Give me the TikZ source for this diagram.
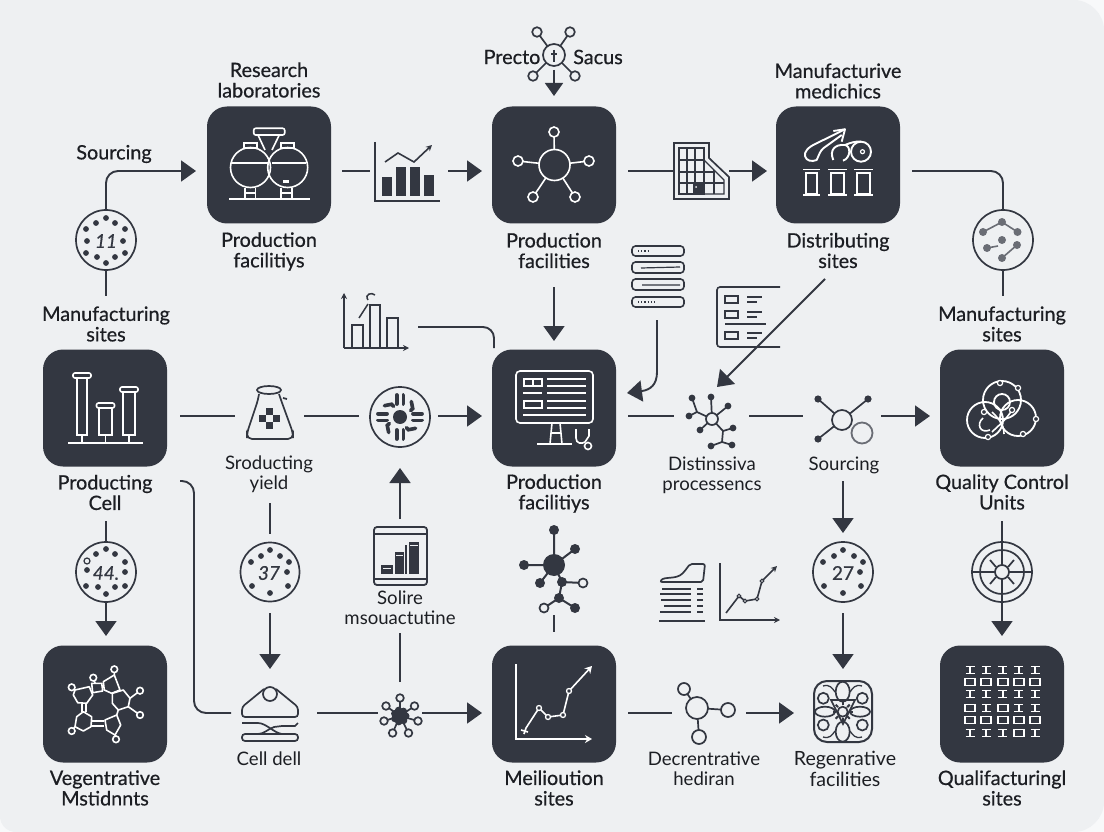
\documentclass[tikz,border=0pt]{standalone}
\usepackage{fontspec}
\usetikzlibrary{arrows.meta,calc}
\setmainfont{Lato}
\newfontfamily\lblfont[FakeBold=0.6]{Lato}
\newfontfamily\thinfont{Lato}
\definecolor{ink}{HTML}{333741}
\definecolor{txt}{HTML}{1C1E23}
\definecolor{paper}{HTML}{EEF0F2}
\definecolor{outer}{HTML}{F8F9FA}
\definecolor{gry}{HTML}{6A6D75}
\tikzset{
  conn/.style={draw=ink,line width=1.9pt},
  flow/.style={conn,-{Triangle[length=15pt,width=21pt]}},
  sflow/.style={draw=ink,line width=1.6pt,-{Stealth[length=6pt,width=6pt]}},
  wflow/.style={draw=white,line width=1.6pt,-{Stealth[length=7pt,width=8pt]}},
  boxn/.style={rectangle,rounded corners=20pt,minimum width=124pt,minimum height=117pt,fill=ink,inner sep=0pt},
  circ/.style={circle,draw=ink,line width=1.7pt,minimum size=#1,inner sep=0pt},
  lbl/.style={font=\fontsize{19.8}{20.5}\selectfont\lblfont,align=center,text=txt,inner sep=0pt},
  thin lbl/.style={font=\fontsize{18.6}{19.6}\selectfont\thinfont,align=center,text=txt,inner sep=0pt},
  numt/.style={font=\fontsize{19}{19}\selectfont\lblfont\itshape,text=ink,inner sep=0pt},
  wl/.style={draw=white,line width=1.6pt},
  il/.style={draw=ink,line width=1.7pt},
}
\newcommand{\dotsat}[1]{\foreach \p in {#1}{\fill[ink] \p circle[radius=2.9pt];}}
\begin{document}
\begin{tikzpicture}[x=1pt,y=-1pt]
\useasboundingbox (0,0) rectangle (1104,832);
\fill[outer] (0,0) rectangle (1104,832);
\fill[paper] (0,0) -- (1074,0) .. controls (1090,0) and (1104,14) .. (1104,30) -- (1104,802) .. controls (1104,818) and (1090,832) .. (1074,832) -- (16,832) .. controls (7,832) and (0,825) .. (0,816) -- cycle;

% ---------- boxes ----------
\node[boxn] (boxA) at (269,165) {};
\node[boxn] (boxB) at (554,165) {};
\node[boxn] (boxC) at (838,165) {};
\node[boxn] (boxD) at (105,408) {};
\node[boxn] (boxE) at (554,408) {};
\node[boxn] (boxF) at (1002,408) {};
\node[boxn] (boxG) at (105,704) {};
\node[boxn] (boxH) at (554,704) {};
\node[boxn] (boxI) at (1002,704) {};

% ---------- circles with numbers ----------
\node[circ=60pt] (c11) at (106,240) {};
\node[numt] (n11) at (106,241) {11};
\dotsat{(106,218),(96,223),(115,223),(86,229),(125,229),(123,241),(87,241),(86,253),(125,253),(97,257),(115,257),(106,263)}
\node[circ=60pt] (cTR) at (1003,240) {};
\node[circ=60pt] (c44) at (106,572) {};
\node[numt] (n44) at (106,573) {44.};
\dotsat{(106,549),(96,554),(115,554),(125,562),(87,570),(125,572),(86,586),(125,586),(98,587),(115,587),(106,594)}
\draw[ink,line width=1.2pt] (87,561) circle[radius=3pt];
\node[circ=59pt] (c37) at (270,572) {};
\node[numt] (n37) at (269,573) {37};
\dotsat{(270,550),(261,556),(280,556),(251,562),(289,562),(287,572),(252,586),(288,586),(270,593)}
\node[circ=60pt] (c27) at (843,572) {};
\node[numt,font=\fontsize{19}{19}\selectfont\lblfont] (n27) at (843,573) {27};
\dotsat{(843,550),(834,556),(854,556),(823,562),(863,562),(860,572),(824,586),(861,586),(843,593)}

% ---------- connector end points ----------
\coordinate (srcEnd) at (196,171);
\coordinate (manuStub) at (106,296);
\coordinate (a1) at (342,171); \coordinate (a2) at (370,171);
\coordinate (a3) at (448,171); \coordinate (a4) at (482,171);
\coordinate (b1) at (628,171); \coordinate (b2) at (673,171);
\coordinate (b3) at (729,171); \coordinate (b4) at (767,171);
\coordinate (c1) at (912,171);
\coordinate (trStub) at (1003,296);
\coordinate (hub1) at (554,70); \coordinate (hub2) at (554,96);
\coordinate (d1) at (554,287); \coordinate (d2) at (554,341);
\coordinate (e1) at (657,320); \coordinate (e2) at (627,393);
\coordinate (f1) at (825,279); \coordinate (f2) at (717,387);
\coordinate (g1) at (418,327); \coordinate (g2) at (494,348);
\coordinate (h1) at (180,416); \coordinate (h2) at (235,416);
\coordinate (h3) at (304,416); \coordinate (h4) at (359,416);
\coordinate (h5) at (438,416); \coordinate (h6) at (482,416);
\coordinate (i1) at (628,416); \coordinate (i2) at (674,416);
\coordinate (i3) at (749,416); \coordinate (i4) at (803,416);
\coordinate (i5) at (881,416); \coordinate (i6) at (930,416);
\coordinate (j1) at (106,521); \coordinate (j2) at (106,636);
\coordinate (k1) at (270,503); \coordinate (k2) at (270,534);
\coordinate (k3) at (270,613); \coordinate (k4) at (270,669);
\coordinate (l1) at (180,481); \coordinate (l2) at (231,713);
\coordinate (m1) at (317,713); \coordinate (m2) at (378,713);
\coordinate (m3) at (422,713); \coordinate (m4) at (482,713);
\coordinate (n1) at (400,682); \coordinate (n2) at (400,633);
\coordinate (n3) at (400,519); \coordinate (n4) at (400,468);
\coordinate (o1) at (554,615); \coordinate (o2) at (554,632);
\coordinate (q1) at (628,713); \coordinate (q2) at (672,713);
\coordinate (q3) at (746,713); \coordinate (q4) at (794,713);
\coordinate (r1) at (843,481); \coordinate (r2) at (843,533);
\coordinate (r3) at (843,613); \coordinate (r4) at (843,669);
\coordinate (s1) at (1002,521); \coordinate (s2) at (1002,636);

% ---------- connectors ----------
\draw[flow,rounded corners=12pt] (c11.north) |- (srcEnd);
\draw[conn] (c11.south) -- (manuStub);
\draw[conn] (a1) -- (a2);
\draw[flow] (a3) -- (a4);
\draw[conn] (b1) -- (b2);
\draw[flow] (b3) -- (b4);
\draw[conn,rounded corners=12pt] (c1) -| (cTR.north);
\draw[conn] (cTR.south) -- (trStub);
\draw[flow] (d1) -- (d2);
\draw[flow] (e1) -- (657,372) .. controls (657,385) and (650,390) .. (e2);
\draw[flow] (f1) -- (f2);
\draw[conn,rounded corners=11pt] (g1) -| (g2);
\draw[conn] (h1) -- (h2);
\draw[conn] (h3) -- (h4);
\draw[flow] (h5) -- (h6);
\draw[conn] (i1) -- (i2);
\draw[conn] (i3) -- (i4);
\draw[flow] (i5) -- (i6);
\draw[conn] (j1) -- (c44.north);
\draw[flow] (c44.south) -- (j2);
\draw[conn] (k1) -- (k2);
\draw[flow] (k3) -- (k4);
\draw[conn,rounded corners=12pt] (l1) -- (194,481) -- (194,713) -- (l2);
\draw[conn] (m1) -- (m2);
\draw[flow] (m3) -- (m4);
\draw[conn] (n1) -- (n2);
\draw[flow] (n3) -- (n4);
\draw[conn] (o1) -- (o2);
\draw[conn] (q1) -- (q2);
\draw[flow] (q3) -- (q4);
\draw[flow] (r1) -- (r2);
\draw[flow] (r3) -- (r4);

% ---------- top hub ----------
\foreach \p in {(537,32),(570,32),(533,76),(575,76)}{\draw[il] (554,55) -- \p;}
\foreach \p in {(537,32),(570,32),(533,76),(575,76)}{\draw[il,fill=paper] \p circle[radius=4.8pt];}
\draw[il,fill=paper] (554,55) circle[radius=11pt];
\draw[ink,line width=1.1pt] (554,50) -- (554,62) (551,54) -- (557,54);
\draw[flow,-{Triangle[length=13pt,width=18pt]}] (hub1) -- (hub2);

% ---------- chart between A and B ----------
\draw[ink,line width=1.7pt] (375,142) -- (375,201) -- (440,201);
\foreach \x/\t in {382/177,396/167,410/167,424/175}{\fill[ink] (\x,\t) rectangle (\x+10,196);}
\draw[sflow] (385,162) -- (398,153) -- (414,162) -- (432,145);

% ---------- box A icon ----------
\draw[wl] (250.5,167.5) circle[radius=20pt] (287.7,167.5) circle[radius=20pt];
\draw[wl] (231,163.3) -- (268,163.3) (272,163.3) -- (306,163.3);
\draw[wl,rounded corners=2pt] (253.7,128.3) rectangle (284.7,135);
\draw[wl] (258,135) -- (265,150) (279.3,135) -- (272,150);
\draw[wl] (243.7,143.3) rectangle (257,148.3) (281,143.3) rectangle (293.7,148.3);
\draw[wl] (244.7,188) -- (244.7,199) (255.3,188) -- (255.3,199) (281,188) -- (281,199) (292,188) -- (292,199);
\draw[wl] (244.7,193) -- (255.3,193) (281,193) -- (292,193);
\draw[wl] (229.3,199.3) -- (310.3,199.3);
\fill[white] (282.5,180.5) rectangle (288.5,182.8);

% ---------- box B icon ----------
\foreach \p in {(518,161),(533,197),(554,132),(589,161),(575,197)}{\draw[wl] (554.5,165) -- \p;}
\draw[wl,fill=ink] (554.5,165) circle[radius=15.5pt];
\foreach \p in {(518,161),(533,197),(554,132),(589,161),(575,197)}{\draw[wl,fill=ink] \p circle[radius=5pt];}

% ---------- grid icon ----------
\draw[ink,line width=1.7pt] (674,143) -- (709,143) -- (709,158) -- (729,177) -- (729,199) -- (674,199) -- cycle;
\draw[ink,line width=1.4pt] (679,148) rectangle (704,194);
\draw[ink,line width=1.4pt] (704,160) -- (724,180) -- (724,194) -- (704,194);
\draw[ink,line width=1.1pt] (679,160) -- (704,160) (679,172) -- (714,172) (679,183) -- (724,183);
\draw[ink,line width=1.1pt] (687,148) -- (687,194) (695,148) -- (695,194) (704,148) -- (704,194) (714,170) -- (714,194);
\fill[ink] (693,184) rectangle (703,193);
\fill[paper] (696,187) circle[radius=1pt];

% ---------- box C icon ----------
\draw[wl,line width=1.9pt,line join=round] (845,129.3) -- (816.7,143.3) .. controls (808,147) and (804,152) .. (805,156) .. controls (806,161) and (812,162) .. (816.7,160) .. controls (819,155) and (820,151) .. (823.3,148.3) -- (841.7,135);
\draw[wl,line width=1.9pt,line join=round] (833.3,131) -- (845,129.3) -- (841.7,141.7);
\draw[wl,line width=1.9pt] (833.3,160) .. controls (829,150) and (835,144) .. (845,145) .. controls (851,146) and (851,158) .. (843,160.7);
\draw[wl,line width=1.9pt] (845,145) .. controls (850,143) and (855,141) .. (861,141.7);
\draw[wl,line width=1.9pt] (861,151.7) circle[radius=10pt];
\draw[white,line width=1.2pt] (862.5,151.7) circle[radius=2pt];
\foreach \x/\w in {803/17,828/19,854/19}{
  \draw[wl,line width=1.9pt] (\x,169.5) -- (\x+\w,169.5) (\x,195) -- (\x+\w,195);
  \draw[wl] (\x+3,173) rectangle (\x+\w-3,194);
}

% ---------- top right circle contents ----------
\draw[gry,line width=1.6pt] (983,232) -- (1002,222) -- (1017.5,232);
\draw[gry,line width=1.6pt] (987,248) -- (998,246) (1002,258) -- (1017,245);
\foreach \p in {(1002,222),(983,232),(1017.5,232),(1002,240),(1017,245),(987,248),(1002,258)}{\fill[gry] \p circle[radius=4pt];}

% ---------- stack icon ----------
\foreach \y/\h in {246/10,262/11,279/11,297/10}{
  \draw[ink,line width=1.6pt,rounded corners=3.5pt] (632,\y) rectangle (684,\y+\h);
}
\draw[ink,line width=1.2pt,dotted] (638,251) -- (648,251);
\draw[ink,line width=1.2pt] (641,268) -- (680,267) (642,285) -- (680,285);
\draw[ink,line width=1.2pt,dotted] (638,302) -- (655,302);

% ---------- list icon ----------
\draw[ink,line width=1.6pt,rounded corners=3pt] (780,287) -- (717,287) -- (717,347) -- (780,347);
\foreach \y in {296,311,332}{
  \draw[ink,line width=1.5pt] (725,\y) rectangle (738,\y+7);
  \draw[ink,line width=1.4pt] (747,\y+1) -- (762,\y+1) (747,\y+6) -- (757,\y+6);
}
\draw[ink,line width=1.4pt] (725,324) -- (766,324);

% ---------- small chart above E ----------
\draw[sflow] (344,348) -- (344,293);
\draw[sflow] (344,348) -- (409,348);
\draw[ink,line width=1.5pt] (352,348) -- (352,325) -- (363,325) -- (363,348);
\draw[ink,line width=1.5pt] (370,348) -- (370,305) -- (380,305) -- (380,348);
\draw[ink,line width=1.5pt] (387,348) -- (387,318) -- (398,318) -- (398,348);
\draw[ink,line width=1.5pt] (359,318) -- (368,304) (368,300) .. controls (364,294) and (372,292) .. (375,295);

% ---------- box D icon ----------
\foreach \x/\t/\w in {82/378/10,105.5/408/13,129/392/12}{
  \draw[wl] (\x-\w/2,\t) rectangle (\x+\w/2,435);
  \draw[wl,rounded corners=2pt] (\x-9,\t-5) rectangle (\x+9,\t);
  \draw[wl] (\x,435) -- (\x,443);
}
\draw[wl] (68,443) -- (143,443);

% ---------- bag icon ----------
\draw[il] (269,390) ellipse[x radius=12pt,y radius=4pt];
\draw[il,rounded corners=5pt] (259,394) -- (258,400) -- (247,433) -- (247,439) -- (293,439) -- (293,433) -- (281,400) -- (279,394);
\draw[il] (283,398) -- (287,399);
\foreach \p in {(269,411),(269,425),(262,418),(276,418)}{\fill[ink,shift={\p}] (-3.5,-3.5) rectangle (3.5,3.5);}

% ---------- sun ring icon ----------
\node[circ=60pt] (ringic) at (400,417) {};
\fill[ink] (400,417) circle[radius=7pt];
\foreach \a in {0,90,180,270}{
  \begin{scope}[shift={(400,417)},rotate=\a]
    \draw[ink,line width=3.8pt,line cap=round] (-3.4,13) -- (-3.4,22) (3.4,13) -- (3.4,22);
  \end{scope}
  \begin{scope}[shift={(400,417)},rotate=\a+45]
    \draw[ink,line width=3.6pt,line cap=round] (-3,12) -- (-3,15) -- (3,19);
  \end{scope}
}

% ---------- box E monitor ----------
\draw[wl,rounded corners=4pt] (516,371) rectangle (593,423);
\draw[wl] (524,379) rectangle (533,386) (533,379) rectangle (542,386);
\draw[wl] (524,401) rectangle (542,408);
\foreach \y in {379,386,393,401,408}{\draw[wl] (547,\y) -- (586,\y);}
\draw[wl] (523,393) -- (542,393) (523,415) -- (586,415);
\draw[wl] (552,423) -- (550,444) (560,423) -- (562,444) (552,433) -- (560,433);
\draw[wl] (537,444) -- (572,444);
\draw[wl] (576,429) -- (576,438) .. controls (576,444) and (582,444) .. (585,442) (589,429) -- (589,436) -- (585,442);
\draw[wl] (588,446) circle[radius=3.5pt];

% ---------- distinssiva node icon ----------
\draw[il] (692,398) -- (697,412) -- (689,416) (697,412) -- (712,419);
\draw[il] (712,419) -- (711,397) (712,419) -- (728,406) (712,419) -- (700,430);
\draw[il] (712,419) -- (723,431) -- (733,428) (723,431) -- (722,442) -- (732,445) (722,442) -- (711,446);
\draw[il,fill=paper] (712,419) circle[radius=6pt];
\foreach \p in {(692,398),(711,397),(728,406),(689,416),(700,430),(733,428),(732,445),(711,446)}{\fill[ink] \p circle[radius=3.4pt];}

% ---------- sourcing icon ----------
\draw[il] (818,399) -- (842,420) -- (868,399) (842,420) -- (818,439);
\foreach \p in {(818,399),(868,399),(818,439)}{\fill[ink] \p circle[radius=3.6pt];}
\draw[il,fill=paper] (842,420) circle[radius=10pt];
\draw[gry,line width=1.8pt,fill=paper] (862,433) circle[radius=10.5pt];

% ---------- box F icon ----------
\draw[wl,line width=1.8pt] (1002,400) circle[radius=19pt] (985,420) circle[radius=18pt] (1018,418) circle[radius=18pt];
\draw[wl,line width=1.8pt] (1002,402) circle[radius=8pt];
\draw[wl] (992,412) .. controls (998,418) and (1004,424) .. (1004,434);
\draw[wl] (1012,410) .. controls (1006,420) and (998,426) .. (992,432);
\draw[wl] (983,418) .. controls (976,424) and (980,434) .. (990,430);
\foreach \p in {(1000,383),(1018,388),(984,412),(1012,410),(1036,419),(1023,434),(988,437)}{\draw[wl,fill=ink,line width=1.2pt] \p circle[radius=2.6pt];}

% ---------- box G molecule ----------
\begin{scope}[wl,line join=round]
\draw (75,690) -- (89.3,686.7) -- (92.7,695) -- (86.7,703.3) -- (77.7,702.7) -- (73.3,695) -- cycle;
\draw (91.7,683.3) -- (101.7,683.3) -- (102.7,691) -- (92.7,692.7) -- cycle;
\draw (103.3,681.7) -- (114.3,675) -- (120,690) -- (111.7,693.3) -- (104.3,690) -- cycle;
\draw (112.3,693.3) -- (123.3,690) -- (130,698.3) -- (128.3,706.7) -- (118.3,710) -- (112.3,703.3) -- cycle;
\draw (105,720) -- (116.7,715) -- (120.7,725) -- (115,735) -- (106.7,730) -- cycle;
\draw (76.7,716.7) -- (83.3,711.7) -- (91.7,716.7) -- (91,726.7) -- (83.3,731) -- (75,726.7) -- cycle;
\draw (81.7,704) -- (81.7,712) (85.7,704) -- (85.7,712);
\draw (91.7,721) -- (104.3,721) (91.7,725.7) -- (104.3,725.7);
\draw (118.3,710) -- (116.7,715);
\draw (114.3,669.3) -- (114.3,675) (93.3,677.7) -- (95,683) (71.7,687.3) -- (75,690) (140,690.7) -- (130,698.3) (140,715) -- (128.3,706.7) (116,739.3) -- (115,735) (71.7,731) -- (75,726.7);
\end{scope}
\foreach \p in {(114.3,669.3),(93.3,677.7),(71.7,687.3),(140,690.7),(140,715),(116,739.3),(71.7,731)}{\draw[wl,fill=ink] \p circle[radius=3.3pt];}

% ---------- cell icon ----------
\draw[il,rounded corners=3pt] (264,689) -- (242,707) -- (242,717) -- (298,717) -- (298,707) -- (276,689);
\draw[il,fill=paper] (270,694) circle[radius=7pt];
\draw[il] (242,723) -- (258,723) .. controls (266,723) and (274,733) .. (282,734);
\draw[il] (298,723) -- (295,726) -- (282,726) -- (274,727) .. controls (268,729) and (264,734) .. (258,734);
\draw[il,rounded corners=3pt] (242,734) rectangle (298,741);

% ---------- star icon ----------
\foreach \p in {(400,698),(386,706),(414.5,706),(384,721),(418,721),(392.6,733),(408.5,733)}{
  \draw[il] (400,716) -- \p;
}
\fill[ink] (400,716) circle[radius=8pt];
\foreach \a in {0,51,...,340}{\fill[ink] ($(400,716)+(\a:6)$) circle[radius=3.5pt];}
\foreach \p in {(400,698),(386,706),(414.5,706),(384,721),(418,721),(392.6,733),(408.5,733)}{
  \draw[il,fill=paper] \p circle[radius=3.8pt];
}

% ---------- tablet icon ----------
\draw[ink,line width=1.8pt,rounded corners=3pt] (374,527) rectangle (427,585);
\draw[il] (374,534) -- (427,534) (374,579) -- (427,579);
\foreach \x/\t/\w in {381/565/12,395/552/9,409/542/10}{\fill[ink] (\x,\t) rectangle (\x+\w,574);}
\draw[paper,line width=1pt] (383,568) -- (391,568) (396,555) -- (403,555) (410,545) -- (418,545);
\draw[il] (406,574) -- (406,545);

% ---------- center molecule ----------
\draw[il,line width=2pt] (554,530) -- (554,565) -- (575,549) (524,565) -- (554,565) -- (540,583);
\draw[il,line width=2pt] (554,565) -- (562,582) -- (583,583) (562,582) -- (559,598) -- (544,608) (559,598) -- (575,608);
\fill[ink] (554,565) circle[radius=11pt];
\foreach \p in {(554,530),(575,549),(524,565),(540,583),(562,582),(559,598),(575,608)}{\fill[ink] \p circle[radius=5pt];}
\draw[il,fill=paper] (583,583) circle[radius=4.5pt] (544,608) circle[radius=4.5pt];

% ---------- box H chart ----------
\draw[wflow] (516,664) -- (516,739) -- (592,739);
\draw[wl] (524,734) -- (526,728) -- (539,708) -- (548,717) -- (563,715) -- (569,691);
\draw[wflow] (569,691) -- (592,666);
\foreach \p in {(539,708),(548,717),(563,715),(569,691)}{\draw[white,line width=1.3pt,fill=ink] \p circle[radius=2.5pt];}
\draw[wl] (521,730) -- (528,732);

% ---------- table + chart icons ----------
\draw[il,rounded corners=2pt] (660,582) .. controls (664,576) and (676,580) .. (684,572) -- (690,564) -- (705,564) -- (703,582) -- cycle;
\draw[ink,line width=1.6pt] (662,589) -- (691,589) (697,589) -- (703,589);
\draw[ink,line width=1.3pt] (660,594) -- (691,594) (697,594) -- (703,594) (661,600) -- (691,600) (697,600) -- (703,600) (664,606) -- (691,606) (697,606) -- (703,606) (660,612) -- (691,612) (697,612) -- (703,612);
\draw[ink,line width=1.6pt] (659,621) -- (705,621);
\draw[sflow] (720,563) -- (720,620) -- (780,620);
\draw[sflow] (726,613) -- (739,596) -- (745,601) -- (757,599) -- (762,581) -- (777,566);
\foreach \p in {(739,596),(745,601),(757,599),(762,581)}{\draw[ink,line width=1.1pt,fill=paper] \p circle[radius=1.8pt];}

% ---------- regenerative icon ----------
\draw[ink,line width=2pt,rounded corners=13pt] (814,681) rectangle (872,742);
\draw[il] (842.7,711.7) circle[radius=5pt];
\foreach \a in {0,45,...,315}{\draw[ink,line width=2pt] ($(842.7,711.7)+(\a:6.5)$) -- ($(842.7,711.7)+(\a:10)$);}
\draw[il] (842.7,691.7) ellipse[x radius=7pt,y radius=10pt] (842.7,731.7) ellipse[x radius=7pt,y radius=10pt];
\draw[il] (825,711.7) ellipse[x radius=10pt,y radius=5pt] (860,711.7) ellipse[x radius=10pt,y radius=5pt];
\foreach \p in {(823.3,698.3),(862.3,698.3),(823.3,725),(862.3,725)}{\draw[il] \p circle[radius=5.5pt];}
\draw[il] (831,700) -- (855,700) -- (843,724) -- cycle;
\draw[ink,line width=1.3pt] (823,686) .. controls (830,684) and (832,688) .. (835,692) (862,686) .. controls (855,684) and (853,688) .. (850,692) (823,737) .. controls (830,739) and (832,735) .. (835,731) (862,737) .. controls (855,739) and (853,735) .. (850,731);

% ---------- decrentrative icon ----------
\draw[il] (684,689) -- (697,708) -- (728,710) (697,708) -- (699,737);
\draw[il,fill=paper] (697,708) circle[radius=11pt];
\draw[il,fill=paper] (684,689) circle[radius=6pt] (728,710) circle[radius=7pt] (699,737) circle[radius=7pt];

% ---------- target icon ----------
\node[circ=60pt] (targ) at (1002,572) {};
\draw[il] (1002,572) circle[radius=22pt];
\draw[flow] (s1) -- (s2);
\draw[il] (972,572) -- (1032,572);
\draw[il,fill=paper] (1002,572) circle[radius=7pt];
\draw[il] (990,560) -- (996,567) (1014,560) -- (1008,567) (990,584) -- (996,577) (1014,584) -- (1008,577);

% ---------- box I icon ----------
\foreach \y/\row in {670/{I,I,I,I,I},682/{O,O,O,O,O},694/{I,I,I,I,I},708/{O,I,O,I,I},720/{O,O,O,O,O},733/{I,I,I,O,I}}{
  \foreach \kk [count=\cc from 0] in \row {
    \pgfmathsetmacro{\xx}{970+\cc*16.3}
    \if\kk I
      \draw[wl,line width=1.8pt] (\xx-4.5,\y-3.5) -- (\xx+4.5,\y-3.5) (\xx,\y-3.5) -- (\xx,\y+3.5) (\xx-4.5,\y+3.5) -- (\xx+4.5,\y+3.5);
    \else
      \draw[wl,line width=1.8pt] (\xx-5,\y-3.5) rectangle (\xx+5,\y+3.5);
    \fi
  }
}

% ---------- labels ----------
\node[lbl] (tSrc) at (114,154) {Sourcing};
\node[lbl] (tRes) at (269,80) {Research\\laboratories};
\node[lbl] (tFac1) at (269,251.5) {Production\\facilitiys};
\node[lbl] (tPre) at (512,57) {Precto};
\node[lbl] (tSac) at (598,57) {Sacus};
\node[lbl] (tFac2) at (554,250.5) {Production\\facilities};
\node[lbl] (tMed) at (838,81) {Manufacturive\\medichics};
\node[lbl] (tDis) at (838,250.5) {Distributing\\sites};
\node[lbl] (tMan1) at (106,324) {Manufacturing\\sites};
\node[lbl] (tMan2) at (1002,324) {Manufacturing\\sites};
\node[lbl] (tCell) at (105,492.5) {Producting\\Cell};
\node[lbl] (tFac3) at (554,493.5) {Production\\facilitiys};
\node[lbl] (tQC) at (1002,492) {Quality Control\\Units};
\node[thin lbl] (tYield) at (269,474) {Sroducting\\yield};
\node[thin lbl] (tDist) at (712,475) {Distinssiva\\processencs};
\node[thin lbl] (tSrc2) at (844,465) {Sourcing};
\node[thin lbl] (tSol) at (400,607.5) {Solire\\msouactutine};
\node[thin lbl] (tDell) at (269,759) {Cell dell};
\node[thin lbl] (tDec) at (704,769) {Decrentrative\\hediran};
\node[lbl,font=\fontsize{19.6}{20.5}\selectfont\thinfont] (tReg) at (845,769) {Regenrative\\facilities};
\node[lbl] (tVeg) at (105,788) {Vegentrative\\Mstidnnts};
\node[lbl] (tMei) at (554,788) {Meilioution\\sites};
\node[lbl] (tQua) at (1002,788) {Qualifacturingl\\sites};
\end{tikzpicture}
\end{document}
